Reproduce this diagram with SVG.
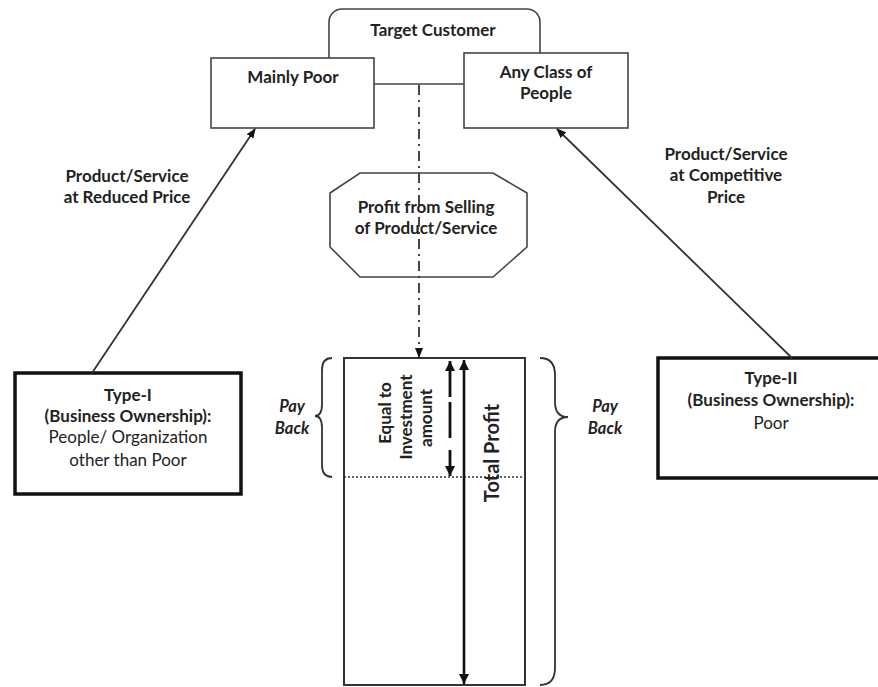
<svg xmlns="http://www.w3.org/2000/svg" width="878" height="687" viewBox="0 0 878 687">
<defs>
<style>
text{font-family:Lato,"Open Sans","Liberation Sans",sans-serif;fill:#222;font-size:17px;text-anchor:middle}
.b{font-weight:bold}
.r{font-weight:normal}
.i{font-style:italic;font-weight:bold;font-size:16.5px}
.thin{fill:#fff;stroke:#444;stroke-width:1.6}
.thick{fill:#fff;stroke:#111;stroke-width:3.5}
.ln{fill:none;stroke:#333;stroke-width:1.8}
</style>
<marker id="ah" markerWidth="10" markerHeight="8" refX="9" refY="4" orient="auto" markerUnits="userSpaceOnUse">
<path d="M0,0 L10,4 L0,8 z" fill="#111"/>
</marker>
<marker id="ah2" markerWidth="10" markerHeight="10" refX="10" refY="5" orient="auto-start-reverse" markerUnits="userSpaceOnUse">
<path d="M0,0 L10,5 L0,10 z" fill="#111"/>
</marker>
</defs>
<rect width="878" height="687" fill="#fff"/>

<g id="target-customer">
<rect class="thin" x="329" y="9" width="211" height="75" rx="13"/>
<text class="b" x="433" y="36">Target Customer</text>
</g>
<g id="mainly-poor">
<rect class="thin" x="211" y="58" width="163" height="70"/>
<text class="b" x="293" y="83">Mainly Poor</text>
</g>
<g id="any-class">
<rect class="thin" x="464" y="53" width="164" height="75"/>
<text class="b" x="546" y="78">Any Class of</text>
<text class="b" x="546" y="99">People</text>
</g>

<g id="profit-selling">
<polygon class="thin" points="360,173 493,173 527,193 527,247 493,277 360,277 330,247 330,193"/>
<text class="b" x="426" y="213">Profit from Selling</text>
<text class="b" x="426" y="234">of Product/Service</text>
</g>

<g id="type1">
<rect class="thick" x="15" y="373" width="226" height="121"/>
<text class="b" x="128" y="401">Type-I</text>
<text class="b" x="128" y="422">(Business Ownership):</text>
<text class="r" x="128" y="443">People/ Organization</text>
<text class="r" x="128" y="466">other than Poor</text>
</g>

<g id="type2">
<rect class="thick" x="658" y="358" width="226" height="120"/>
<text class="b" x="771" y="384">Type-II</text>
<text class="b" x="771" y="406">(Business Ownership):</text>
<text class="r" x="771" y="429">Poor</text>
</g>

<g id="profit-bar">
<rect fill="#fff" stroke="#333" stroke-width="2" x="344" y="358" width="181" height="327"/>
<line x1="344" y1="477" x2="525" y2="477" stroke="#333" stroke-width="1.5" stroke-dasharray="2 2"/>
<text class="b" transform="translate(391,413) rotate(-90)">Equal to</text>
<text class="b" transform="translate(412,417) rotate(-90)">Investment</text>
<text class="b" transform="translate(432,418) rotate(-90)">amount</text>
<text class="b" style="font-size:20px" transform="translate(499,453) rotate(-90)">Total Profit</text>
</g>

<g id="payback-left">
<path class="ln" d="M332,358 Q322,358 322,370 L322,404 Q322,416 315,416 Q322,416 322,428 L322,465 Q322,477 332,477" stroke="#555" stroke-width="1.5"/>
<text class="i" x="292" y="412">Pay</text>
<text class="i" x="292" y="434">Back</text>
</g>
<g id="payback-right">
<path class="ln" d="M540,358 Q555,358 555,375 L555,402 Q555,417 568,417 Q555,417 555,432 L555,668 Q555,685 540,685" stroke="#555" stroke-width="1.5"/>
<text class="i" x="605" y="412">Pay</text>
<text class="i" x="605" y="434">Back</text>
</g>

<g id="connectors">
<line class="ln" x1="92" y1="373" x2="255" y2="129" marker-end="url(#ah)"/>
<line class="ln" x1="792" y1="358" x2="557" y2="129" marker-end="url(#ah)" stroke-width="2.2"/>
<line class="ln" x1="419" y1="85" x2="419" y2="357" stroke-dasharray="10 5 2 5" marker-end="url(#ah)"/>
<line x1="464" y1="360" x2="464" y2="684" stroke="#111" stroke-width="2.6" marker-start="url(#ah2)" marker-end="url(#ah2)"/>
<line x1="450" y1="361" x2="450" y2="476" stroke="#111" stroke-width="2.8" stroke-dasharray="36 5 36 12 40" marker-start="url(#ah2)" marker-end="url(#ah2)"/>
</g>

<g id="labels">
<text class="b" x="127" y="182">Product/Service</text>
<text class="b" x="127" y="203">at Reduced Price</text>
<text class="b" x="726" y="160">Product/Service</text>
<text class="b" x="726" y="181">at Competitive</text>
<text class="b" x="726" y="203">Price</text>
</g>
</svg>
